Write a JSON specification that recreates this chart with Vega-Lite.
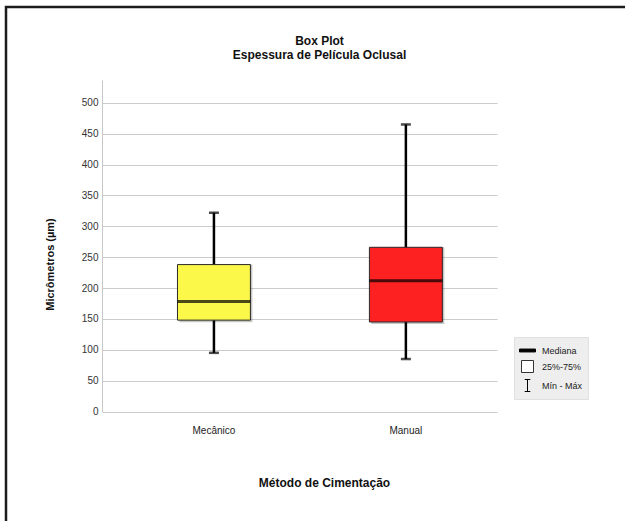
{
  "$schema": "https://vega.github.io/schema/vega-lite/v6.json",
  "width": 623,
  "height": 518,
  "autosize": {"type": "none"},
  "padding": {"left": 6, "top": 7, "right": -4, "bottom": -4},
  "background": "white",
  "title": {
    "text": ["Box Plot", "Espessura de Película Oclusal"],
    "font": "Liberation Sans",
    "fontSize": 12,
    "fontWeight": "bold",
    "color": "#111111",
    "anchor": "middle",
    "frame": "group",
    "orient": "top",
    "offset": 0,
    "baseline": "top",
    "lineHeight": 14,
    "dx": 2,
    "dy": 55
  },
  "datasets": {
    "caixas": [
      {"metodo": "Mecânico", "minimo": 95, "q1": 148, "mediana": 178, "q3": 238, "maximo": 322},
      {"metodo": "Manual", "minimo": 85, "q1": 145, "mediana": 212, "q3": 266, "maximo": 465}
    ],
    "legenda": [
      {"item": "Mediana"},
      {"item": "25%-75%"},
      {"item": "Mín - Máx"}
    ]
  },
  "layer": [
    {
      "data": {"name": "caixas"},
      "encoding": {
        "x": {
          "field": "metodo",
          "type": "nominal",
          "sort": ["Mecânico", "Manual"],
          "scale": {"range": [96, 491], "paddingInner": 0.62, "paddingOuter": 0.339, "align": 0.58},
          "axis": {
            "title": "Método de Cimentação",
            "orient": "bottom",
            "offset": -113.5,
            "domain": false,
            "ticks": false,
            "grid": false,
            "labelAngle": 0,
            "labelPadding": 14,
            "labelFontSize": 10,
            "labelColor": "#222222",
            "titleFontSize": 12,
            "titleFontWeight": "bold",
            "titleColor": "#111111",
            "titleX": 318,
            "titleY": 70.5,
            "titleBaseline": "middle",
            "titleAlign": "center"
          }
        }
      },
      "layer": [
        {
          "mark": {"type": "rule", "color": "#000000", "strokeWidth": 2.5},
          "encoding": {
            "y": {
              "field": "minimo",
              "type": "quantitative",
              "title": "Micrômetros (µm)",
              "scale": {"domain": [0, 537], "range": [404.5, 73], "nice": false, "zero": true},
              "axis": {
                "values": [0, 50, 100, 150, 200, 250, 300, 350, 400, 450, 500],
                "offset": -96,
                "ticks": false,
                "labelPadding": 4,
                "labelFontSize": 10,
                "labelColor": "#333333",
                "domainColor": "#c8c8c8",
                "gridColor": "#cbcbcb",
                "titleFontSize": 11,
                "titleFontWeight": "bold",
                "titleColor": "#111111",
                "titleAngle": -90,
                "titleX": -52,
                "titleY": 257,
                "titleBaseline": "middle",
                "titleAlign": "center"
              }
            },
            "y2": {"field": "maximo"}
          }
        },
        {
          "mark": {"type": "tick", "color": "#000000", "size": 10, "thickness": 2.5},
          "encoding": {"y": {"field": "minimo", "type": "quantitative", "title": "Micrômetros (µm)"}}
        },
        {
          "mark": {"type": "tick", "color": "#000000", "size": 10, "thickness": 2.5},
          "encoding": {"y": {"field": "maximo", "type": "quantitative", "title": "Micrômetros (µm)"}}
        },
        {
          "mark": {"type": "bar", "color": "#000000", "opacity": 0.22, "xOffset": 2, "yOffset": 2},
          "encoding": {
            "y": {"field": "q1", "type": "quantitative", "title": "Micrômetros (µm)"},
            "y2": {"field": "q3"}
          }
        },
        {
          "mark": {"type": "bar", "stroke": "#2a2a2a", "strokeWidth": 1},
          "encoding": {
            "y": {"field": "q1", "type": "quantitative", "title": "Micrômetros (µm)"},
            "y2": {"field": "q3"},
            "color": {
              "field": "metodo",
              "type": "nominal",
              "scale": {"domain": ["Mecânico", "Manual"], "range": ["#fcf84a", "#fd2121"]},
              "legend": null
            }
          }
        },
        {
          "mark": {"type": "tick", "color": "#000000", "size": 73, "thickness": 3},
          "encoding": {"y": {"field": "mediana", "type": "quantitative", "title": "Micrômetros (µm)"}}
        }
      ]
    },
    {
      "data": {"name": "legenda"},
      "mark": {"type": "point", "filled": true, "opacity": 0, "strokeWidth": 1, "size": 256},
      "encoding": {
        "shape": {
          "field": "item",
          "type": "nominal",
          "scale": {
            "domain": ["Mediana", "25%-75%", "Mín - Máx"],
            "range": [
              "M-1,-0.18H1V0.18H-1Z",
              "M-0.75,-0.75H0.75V0.75H-0.75Z",
              "M-0.35,-0.75H0.35M0,-0.75V0.75M-0.35,0.75H0.35"
            ]
          },
          "legend": {"title": null}
        },
        "fill": {
          "field": "item",
          "type": "nominal",
          "scale": {"domain": ["Mediana", "25%-75%", "Mín - Máx"], "range": ["#000000", "#ffffff", "#000000"]},
          "legend": {"title": null}
        },
        "stroke": {
          "field": "item",
          "type": "nominal",
          "scale": {"domain": ["Mediana", "25%-75%", "Mín - Máx"], "range": ["#000000", "#333333", "#000000"]},
          "legend": {"title": null}
        }
      }
    }
  ],
  "config": {
    "font": "Liberation Sans",
    "view": {"stroke": "#1c1c1c", "strokeWidth": 2.5, "fill": "white"},
    "legend": {
      "orient": "none",
      "legendX": 508,
      "legendY": 330,
      "fillColor": "#eeeeee",
      "strokeColor": "#e0e0e0",
      "padding": 5,
      "rowPadding": 2,
      "labelFont": "Liberation Sans",
      "labelFontSize": 9,
      "labelColor": "#222222",
      "labelOffset": 6,
      "symbolSize": 256,
      "symbolStrokeWidth": 1,
      "symbolOpacity": 1
    }
  }
}
